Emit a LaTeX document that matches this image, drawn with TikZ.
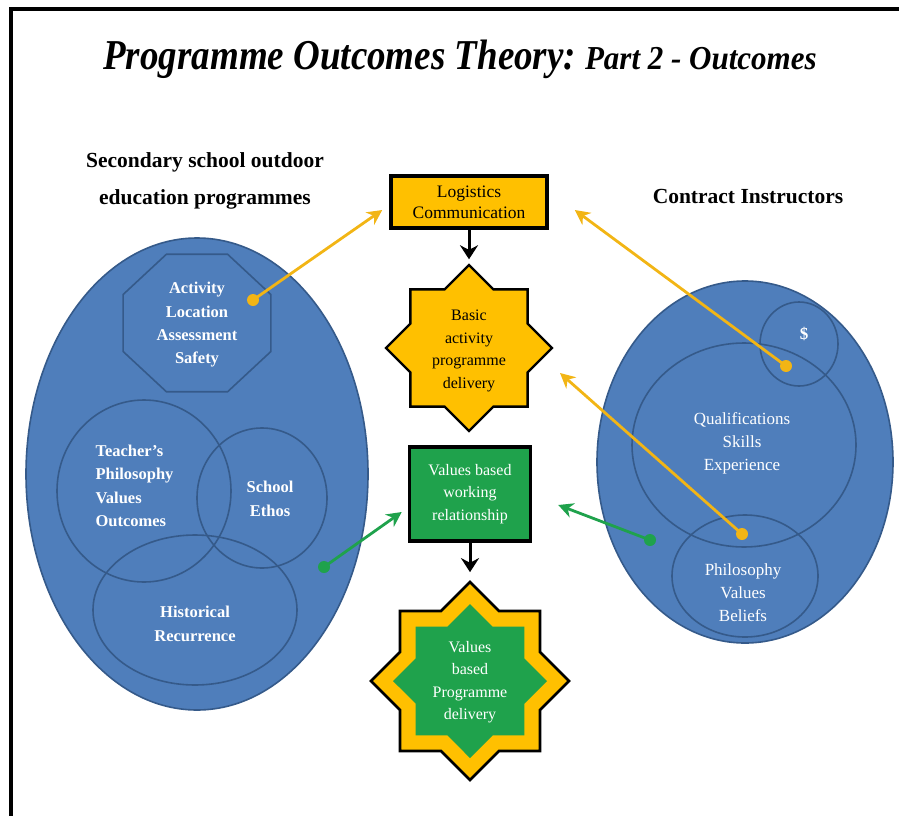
\documentclass[tikz,border=0pt]{standalone}
\usepackage{fontspec}
\usepackage{graphicx}
\setmainfont{Liberation Serif}
\usetikzlibrary{shapes.geometric,arrows.meta,calc}
\definecolor{gold}{HTML}{FFC000}
\definecolor{goldline}{HTML}{F2B515}
\definecolor{oblue}{HTML}{4F7EBB}
\definecolor{dblue}{HTML}{355A8A}
\definecolor{vgreen}{HTML}{1FA24C}
\tikzset{
  bigblob/.style={ellipse, fill=oblue, draw=dblue, line width=1.6pt, inner sep=0pt},
  inring/.style={ellipse, draw=dblue, line width=1.6pt, inner sep=0pt},
  wtext/.style={text=white, align=center, font=\bfseries\fontsize{16.5}{23.3}\selectfont},
  wtextn/.style={text=white, align=center, font=\fontsize{17}{23}\selectfont},
  boxo/.style={rectangle, fill=gold, draw=black, line width=3.5pt, inner sep=0pt},
  starshape/.style={star, star points=8, star point ratio=1.307, inner sep=0pt},
  goldarrow/.style={draw=goldline, line width=2.8pt, -{Stealth[length=15pt,width=15pt]}},
  greenarrow/.style={draw=vgreen, line width=2.8pt, -{Stealth[length=15pt,width=15pt]}},
  downarrow/.style={draw=black, line width=3pt, -{Stealth[length=14pt,width=18pt]}},
  headtext/.style={font=\bfseries\fontsize{21.5}{37}\selectfont, align=center},
  ctext/.style={align=center, font=\fontsize{16}{22.5}\selectfont}
}
\begin{document}
\begin{tikzpicture}[x=1pt,y=-1pt]
\useasboundingbox (0,0) rectangle (899,816);
% frame
\draw[line width=3.5pt] (11,816) -- (11,9) -- (899,9);
% title
\node[anchor=base, inner sep=0pt] (title) at (460,70) {\bfseries\itshape\scalebox{1}[1.15]{\fontsize{37}{40}\selectfont Programme Outcomes Theory:}\hspace{9pt}\scalebox{1}[1.08]{\fontsize{31}{34}\selectfont Part 2 - Outcomes}};
% headings
\node[headtext] (lhead) at (205,181) {Secondary school outdoor\\education programmes};
\node[headtext] (rhead) at (748,197) {Contract Instructors};
% left blob
\node[bigblob, minimum width=342, minimum height=472] (lblob) at (197,474) {};
\node[regular polygon, regular polygon sides=8, draw=dblue, line width=1.6pt, minimum size=160, inner sep=0pt, yscale=0.93] (octa) at (197,323) {};
\node[wtext] (octatxt) at (197,325) {Activity\\Location\\Assessment\\Safety};
\node[inring, minimum width=174, minimum height=182] (teach) at (144,491) {};
\node[inring, minimum width=130, minimum height=140] (ethos) at (262,498) {};
\node[inring, minimum width=204, minimum height=150] (hist) at (195,610) {};
\node[wtext, align=left, anchor=west] (teachtxt) at (92,486) {Teacher's\\Philosophy\\Values\\Outcomes};
\node[wtext] (ethostxt) at (270,499) {School\\Ethos};
\node[wtext] (histtxt) at (195,624) {Historical\\Recurrence};
% right blob
\node[bigblob, minimum width=296, minimum height=362] (rblob) at (745,462) {};
\node[inring, minimum width=78, minimum height=84] (money) at (799,344) {};
\node[inring, minimum width=224, minimum height=204] (qual) at (744,445) {};
\node[inring, minimum width=146, minimum height=122] (phil) at (745,576) {};
\node[wtextn, font=\bfseries\fontsize{17}{20}\selectfont] (moneytxt) at (804,334) {\$};
\node[wtextn] (qualtxt) at (742,443) {Qualifications\\Skills\\Experience};
\node[wtextn] (philtxt) at (743,593) {Philosophy\\Values\\Beliefs};
% centre column
\node[boxo, minimum width=156, minimum height=52, align=center, font=\fontsize{17.5}{21}\selectfont] (logi) at (469,202) {Logistics\\Communication};
\node[starshape, fill=gold, draw=black, line width=2.4pt, minimum size=166] (star1) at (469,348) {};
\node[ctext] (star1txt) at (469,351) {Basic\\activity\\programme\\delivery};
\node[rectangle, fill=vgreen, draw=black, line width=3.5pt, minimum width=121, minimum height=94, text=white, ctext] (vbox) at (470,494) {Values based\\working\\relationship};
\node[starshape, fill=gold, draw=black, line width=2.6pt, minimum size=198] (star2) at (470,681) {};
\node[starshape, fill=vgreen, minimum size=154] (star2in) at (470,681) {};
\node[ctext, text=white] (star2txt) at (470,682) {Values\\based\\Programme\\delivery};
% down arrows
\draw[downarrow] (logi.south) -- ([yshift=4pt]star1.north);
\draw[downarrow] (vbox.south) -- ([yshift=8pt]star2.north);
% dots
\coordinate (d1) at (253,300);
\coordinate (d2) at (786,366);
\coordinate (d3) at (742,534);
\coordinate (d4) at (324,567);
\coordinate (d5) at (650,540);
\fill[goldline] (d1) circle (6);
\fill[goldline] (d2) circle (6);
\fill[goldline] (d3) circle (6);
\fill[vgreen] (d4) circle (6);
\fill[vgreen] (d5) circle (6);
\draw[goldarrow] (d1) -- ([xshift=-7pt,yshift=-8pt]logi.west);
\draw[goldarrow] (d2) -- ([xshift=26pt,yshift=-8pt]logi.east);
\draw[goldarrow] (d3) -- ([xshift=91pt,yshift=-25pt]star1.center);
\draw[greenarrow] (d4) -- ([xshift=-6pt,yshift=-18pt]vbox.west);
\draw[greenarrow] (d5) -- ([xshift=26pt,yshift=-11pt]vbox.east);
\end{tikzpicture}
\end{document}
